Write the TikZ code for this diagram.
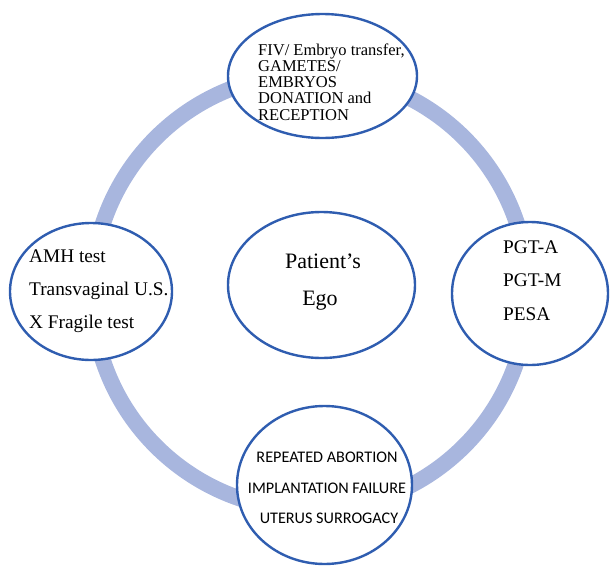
\documentclass[tikz,border=0pt]{standalone}
\usepackage{fontspec}
\setmainfont{Liberation Serif}
\newfontfamily\calib{Carlito}
\usetikzlibrary{shapes.geometric}
\definecolor{ringblue}{HTML}{A8B6DE}
\definecolor{edgeblue}{HTML}{2F5DB0}
\begin{document}
\begin{tikzpicture}[x=1pt,y=-1pt,
  bubble/.style={ellipse, draw=edgeblue, line width=2.4pt, fill=white, inner sep=0pt},
  serif/.style={inner sep=0pt, text=black},
  ringstyle/.style={draw=ringblue, line width=16pt}]
\useasboundingbox (0,0) rectangle (611,568);
% ring
\coordinate (rc) at (310,292);
\draw[ringstyle] (rc) circle[radius=218pt];
% bubbles
\node[bubble, minimum width=189pt, minimum height=124pt] (top) at (322.5,76) {};
\node[bubble, minimum width=162pt, minimum height=137pt] (left) at (91,291.5) {};
\node[bubble, minimum width=156pt, minimum height=143pt] (right) at (530,293.5) {};
\node[bubble, minimum width=175pt, minimum height=158pt] (bottom) at (324.5,485) {};
\node[bubble, minimum width=187pt, minimum height=146pt] (center) at (321.5,285) {};
% top text
\begin{scope}[every node/.style={serif, anchor=base west, font=\fontsize{16.5}{16.5}\selectfont}]
\node (t1) at (258,55) {FIV/ Embryo transfer,};
\node (t2) at (258,71.3) {GAMETES/};
\node (t3) at (258,87.6) {EMBRYOS};
\node (t4) at (258,103.9) {DONATION and};
\node (t5) at (258,120.2) {RECEPTION};
\end{scope}
% left text
\begin{scope}[every node/.style={serif, anchor=base west, font=\fontsize{19.3}{19.3}\selectfont}]
\node (l1) at (29,262) {AMH test};
\node (l2) at (29,295) {Transvaginal U.S.};
\node (l3) at (29,328) {X Fragile test};
\node (r1) at (503,253) {PGT-A};
\node (r2) at (503,286.5) {PGT-M};
\node (r3) at (503,320) {PESA};
\end{scope}
% center text
\begin{scope}[every node/.style={serif, anchor=base, font=\fontsize{22}{22}\selectfont}]
\node (c1) at (323,268) {Patient’s};
\node (c2) at (320,305) {Ego};
\end{scope}
% bottom text
\begin{scope}[every node/.style={serif, anchor=base, font=\calib\fontsize{16.2}{16.2}\selectfont}]
\node (b1) at (327,462) {REPEATED ABORTION};
\node (b2) at (327,493) {IMPLANTATION FAILURE};
\node (b3) at (329,523) {UTERUS SURROGACY};
\end{scope}
\end{tikzpicture}
\end{document}
